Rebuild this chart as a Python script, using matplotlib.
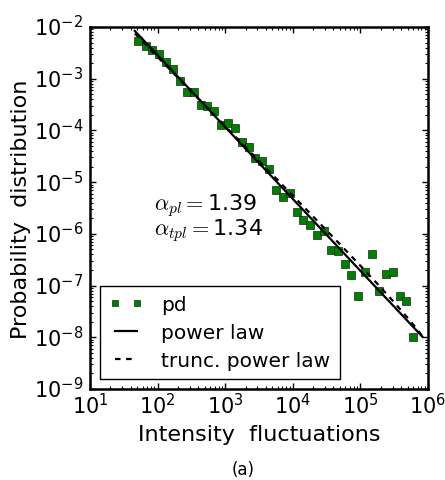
import numpy as np
import matplotlib
matplotlib.use('Agg')
import matplotlib.pyplot as plt

plt.style.use('classic')
plt.rcParams['mathtext.fontset'] = 'cm'
plt.rcParams['font.family'] = 'DejaVu Sans'

# intensity fluctuations (log-binned) and probability distribution
x_pd = [52, 67, 83, 106, 134, 170, 213, 271, 344, 432, 541, 686, 875, 1104,
        1396, 1759, 2232, 2805, 3535, 4450, 5645, 7096, 8998, 11420, 14350,
        18070, 22920, 28890, 36560, 46040, 58420, 73440, 93150, 118100,
        148800, 187500, 237200, 299100, 379300, 476400, 600000]
y_pd = [5.28e-3, 4.35e-3, 3.64e-3, 2.94e-3, 2.13e-3, 1.51e-3, 9.1e-4, 5.65e-4,
        5.46e-4, 3.06e-4, 2.96e-4, 2.37e-4, 1.29e-4, 1.39e-4, 1.12e-4, 5.89e-5,
        4.73e-5, 2.99e-5, 2.62e-5, 1.82e-5, 7.13e-6, 5.15e-6, 6.15e-6, 2.70e-6,
        1.89e-6, 1.50e-6, 9.35e-7, 1.16e-6, 4.92e-7, 4.59e-7, 2.61e-7, 1.62e-7,
        6.35e-8, 1.80e-7, 4.06e-7, 7.93e-8, 1.65e-7, 1.80e-7, 6.26e-8, 5.01e-8,
        9.95e-9]

alpha_pl = 1.39
alpha_tpl = 1.34
x_min, x_max = 46, 8.3e5
y_at_min = 8.4e-3
lam = 4.2e-7

xf = np.logspace(np.log10(x_min), np.log10(x_max), 300)
y_pl = y_at_min * (xf / x_min) ** (-alpha_pl)
c_tpl = y_at_min * 10 ** (-0.05) * x_min ** alpha_tpl
y_tpl = c_tpl * xf ** (-alpha_tpl) * np.exp(-lam * (xf - x_min))

fig = plt.figure(figsize=(4.45, 4.81), dpi=100, facecolor='w')
ax = fig.add_axes([0.2022, 0.1892, 0.7596, 0.7526])

ax.loglog(x_pd, y_pd, 's', color='g', mec='k', mew=0.4, ms=5.5,
          label='pd', zorder=3)
ax.loglog(xf, y_pl, 'k-', lw=1.6, label='power law', zorder=4)
ax.loglog(xf, y_tpl, 'k', ls=(0, (4, 4)), lw=1.6, label='trunc. power law', zorder=4)

ax.set_xlim(1e1, 1e6)
ax.set_ylim(1e-9, 1e-2)
for sp in ax.spines.values():
    sp.set_linewidth(1.8)
ax.tick_params(which='both', direction='in', top=True, right=True, labelsize=15)
ax.tick_params(which='major', length=4, width=1)
ax.tick_params(which='minor', length=2, width=0.8)
ax.tick_params(axis='x', pad=2)
ax.tick_params(axis='y', pad=5)

ax.set_xlabel('Intensity  fluctuations', fontsize=16, labelpad=5)
ax.set_ylabel('Probability  distribution', fontsize=16, labelpad=2)

ax.text(0.19, 0.497, r'$\alpha_{pl}=$1.39', transform=ax.transAxes, fontsize=16)
ax.text(0.19, 0.427, r'$\alpha_{tpl}=$1.34', transform=ax.transAxes, fontsize=16)

leg = ax.legend(loc='lower left', numpoints=2, fontsize=14.5, frameon=True,
                fancybox=False, borderaxespad=0.5, handlelength=1.7,
                handletextpad=0.9, labelspacing=0.45, borderpad=0.45,
                markerscale=0.75)
leg.get_frame().set_edgecolor('k')
leg.get_frame().set_linewidth(1.0)

fig.text(0.546, 0.023, '(a)', ha='center', va='center', fontsize=12)

fig.savefig('out.png', dpi=100, facecolor='w')
